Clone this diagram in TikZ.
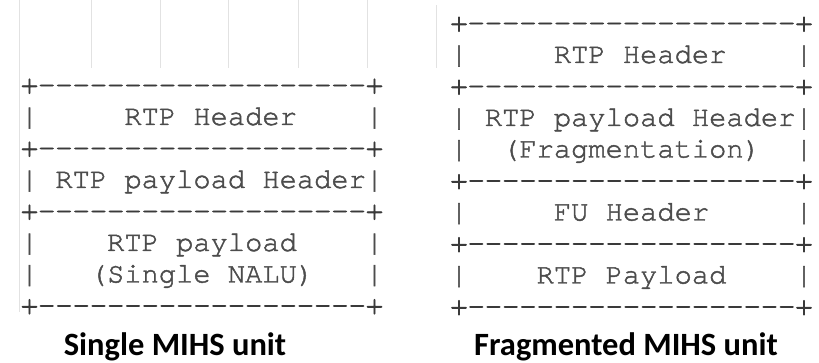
\documentclass[tikz,border=0pt]{standalone}
\usepackage{fontspec}
\setmainfont{Carlito}
\newfontfamily\asciifont[FakeBold=1.6]{TeX Gyre Cursor}
\newfontfamily\borderfont[FakeBold=2.6]{TeX Gyre Cursor}
\definecolor{asciigray}{HTML}{4C4C4C}
\definecolor{bordergray}{HTML}{3A3A3A}
\definecolor{gridgray}{HTML}{E2E2E2}
\tikzset{
  asciirow/.style={anchor=base, inner sep=0pt, text=asciigray,
    font=\asciifont\fontsize{28.75}{31}\selectfont},
  caption/.style={anchor=base, inner sep=0pt,
    font=\bfseries\fontsize{32.5}{36}\selectfont},
  gridline/.style={draw=gridgray, line width=1pt}
}
\newcommand\borderrow{{\borderfont\color{bordergray}+-------------------+}}

\begin{document}
\begin{tikzpicture}[x=1pt,y=-1pt]
  \useasboundingbox (0,0) rectangle (819,363);
  % faint table borders behind the packets
  \draw[gridline] (19,0) -- (19,312);
  \foreach \gx in {91,160,228,298,367}
    \draw[gridline] (\gx,0) -- (\gx,68);
  \draw[gridline] (436,5) -- (436,68);
  %% single unit
  \foreach \row [count=\k from 0] in {\borderrow, |~~~~~RTP Header~~~~|,
      \borderrow, |~RTP payload Header|, \borderrow,
      |~~~~RTP payload~~~~|, |~~~(Single NALU)~~~|, \borderrow}
    \node[asciirow] (sgl\k) at (202,84+31.5*\k+9.5) {\row};
  %% fragmented unit
  \foreach \row [count=\k from 0] in {\borderrow, |~~~~~RTP Header~~~~|,
      \borderrow, |~RTP payload Header|, |~~(Fragmentation)~~|,
      \borderrow, |~~~~~FU Header~~~~~|, \borderrow,
      |~~~~RTP Payload~~~~|, \borderrow}
    \node[asciirow] (frg\k) at (631.5,22+31.5*\k+9.5) {\row};
  % captions
  \node[caption] (sglcap) at (175,355) {Single MIHS unit};
  \node[caption] (frgcap) at (626,355) {Fragmented MIHS unit};
\end{tikzpicture}
\end{document}
